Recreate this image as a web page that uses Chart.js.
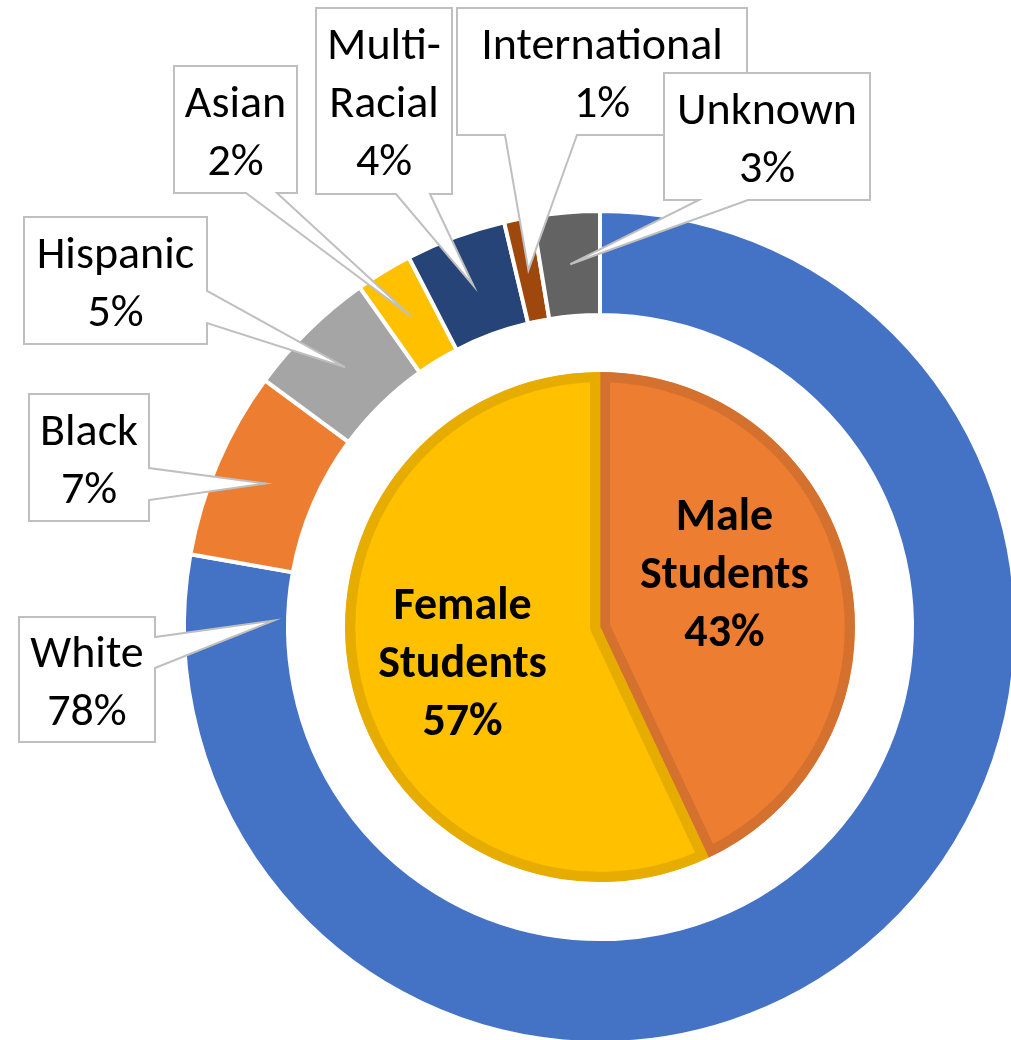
<!DOCTYPE html>
<html>
<head>
<meta charset="utf-8">
<title>Student population by ethnicity and gender</title>
<script src="https://cdn.jsdelivr.net/npm/chart.js@4.4.1/dist/chart.umd.min.js"></script>
<style>
    html, body { margin: 0; padding: 0; background: #fff; }
    #frame { position: relative; width: 1011px; height: 1040px; overflow: hidden; }
    #chart { position: absolute; left: 0; top: 0; }
</style>
</head>
<body>
<div id="frame"><canvas id="chart" width="1030" height="1060"></canvas></div>
<script>
// Outer ring: ethnicity, clockwise from 12 o'clock (share of students, %)
const ethnicityLabels = ['White', 'Black', 'Hispanic', 'Asian', 'Multi-Racial', 'International', 'Unknown'];
const ethnicityShare = [77.8, 7.3, 5.1, 2.2, 3.9, 1.1, 2.6];
const ethnicityColors = ['#4472C4', '#ED7D31', '#A5A5A5', '#FFC000', '#264478', '#9E480E', '#636363'];

// Inner pie: gender
const genderLabels = ['Male Students', 'Female Students'];
const genderShare = [43, 57];
const genderColors = ['#ED7D31', '#FFC000'];
const genderBorders = ['#D5712E', '#E6AC00'];

const FONT = 'Carlito, Lato, "Open Sans", sans-serif';
const LABEL_SIZE = 46;
const BOLD_SIZE = 46;
const LINE_GAP = 58;

// Callout boxes for the ring, in ring order: [x, y, w, h], side the pointer leaves from,
// and where on that side the pointer's base sits
const CALLOUTS = [
    { box: [19, 617, 136, 125], side: 'right', base: [637, 668], tip: { angleFrac: 0.968, radiusFrac: 0.14 } },
    { box: [29, 394, 120, 127], side: 'right', base: [468, 500] },
    { box: [24, 217, 183, 127], side: 'right', base: [291, 323] },
    { box: [174, 66, 123, 127], side: 'bottom', base: [246, 277] },
    { box: [316, 8, 136, 186], side: 'bottom', base: [396, 430] },
    { box: [457, 8, 290, 127], side: 'bottom', base: [505, 577] },
    { box: [664, 73, 206, 127], side: 'bottom', base: [699, 748] }
];

// Nudges for the bold labels inside the pie (Excel doesn't put them exactly on the centroid)
const GENDER_LABEL_NUDGE = [[0, -27], [-13, 6]];

function pct(values, i) {
    const total = values.reduce((a, b) => a + b, 0);
    return Math.round(values[i] / total * 100) + '%';
}

function splitName(name) {
    // "Multi-Racial" -> "Multi-" / "Racial"
    const dash = name.indexOf('-');
    return dash > 0 ? [name.slice(0, dash + 1), name.slice(dash + 1)] : [name];
}

function drawLines(ctx, lines, cx, cy, size) {
    const top = cy - (lines.length - 1) * LINE_GAP / 2;
    lines.forEach((line, k) => {
        ctx.fillText(line, cx, top + k * LINE_GAP + size * 0.35);
    });
}

function tipPoint(arc, spec) {
    if (!spec) return arc.tooltipPosition(true);
    const p = arc.getProps(['x', 'y', 'startAngle', 'endAngle', 'innerRadius', 'outerRadius'], true);
    const a = p.startAngle + (p.endAngle - p.startAngle) * spec.angleFrac;
    const r = p.innerRadius + (p.outerRadius - p.innerRadius) * spec.radiusFrac;
    return { x: p.x + Math.cos(a) * r, y: p.y + Math.sin(a) * r };
}

function calloutPath(ctx, c, tip) {
    const [x, y, w, h] = c.box;
    const [b0, b1] = c.base;
    ctx.beginPath();
    ctx.moveTo(x, y);
    ctx.lineTo(x + w, y);
    if (c.side === 'right') {
        ctx.lineTo(x + w, b0);
        ctx.lineTo(tip.x, tip.y);
        ctx.lineTo(x + w, b1);
        ctx.lineTo(x + w, y + h);
        ctx.lineTo(x, y + h);
    } else {
        ctx.lineTo(x + w, y + h);
        ctx.lineTo(b1, y + h);
        ctx.lineTo(tip.x, tip.y);
        ctx.lineTo(b0, y + h);
        ctx.lineTo(x, y + h);
    }
    ctx.closePath();
}

const labelPlugin = {
    id: 'excelLabels',
    afterDatasetsDraw(chart) {
        const ctx = chart.ctx;
        ctx.save();
        ctx.textAlign = 'center';
        ctx.textBaseline = 'alphabetic';
        ctx.fillStyle = '#000';

        // gender labels inside the pie
        const pieArcs = chart.getDatasetMeta(2).data;
        ctx.font = `bold ${BOLD_SIZE}px ${FONT}`;
        pieArcs.forEach((arc, i) => {
            const pos = arc.tooltipPosition(true);
            const [dx, dy] = GENDER_LABEL_NUDGE[i];
            const lines = genderLabels[i].split(' ').concat(pct(genderShare, i));
            drawLines(ctx, lines, pos.x + dx, pos.y + dy, BOLD_SIZE);
        });

        // callouts for the ethnicity ring
        const ringArcs = chart.getDatasetMeta(0).data;
        ringArcs.forEach((arc, i) => {
            const c = CALLOUTS[i];
            const tip = tipPoint(arc, c.tip);
            calloutPath(ctx, c, tip);
            ctx.fillStyle = '#fff';
            ctx.fill();
            ctx.lineWidth = 2;
            ctx.lineJoin = 'miter';
            ctx.strokeStyle = '#BFBFBF';
            ctx.stroke();

            const [x, y, w, h] = c.box;
            ctx.fillStyle = '#000';
            ctx.font = `${LABEL_SIZE}px ${FONT}`;
            const lines = splitName(ethnicityLabels[i]).concat(pct(ethnicityShare, i));
            drawLines(ctx, lines, x + w / 2, y + h / 2, LABEL_SIZE);
        });
        ctx.restore();
    }
};

new Chart(document.getElementById('chart'), {
    type: 'pie',
    data: {
        labels: ethnicityLabels,
        datasets: [
            {
                label: 'Ethnicity',
                data: ethnicityShare,
                backgroundColor: ethnicityColors,
                borderColor: '#fff',
                borderWidth: 4,
                hoverBorderWidth: 4,
                weight: 104
            },
            {
                // empty band between the ring and the pie
                label: 'gap',
                data: [1],
                backgroundColor: 'rgba(0,0,0,0)',
                borderWidth: 0,
                hoverBorderWidth: 0,
                weight: 57
            },
            {
                label: 'Gender',
                data: genderShare,
                backgroundColor: genderColors,
                borderColor: genderBorders,
                borderAlign: 'inner',
                borderWidth: 10,
                hoverBorderWidth: 10,
                weight: 255
            }
        ]
    },
    options: {
        responsive: false,
        animation: false,
        events: [],
        layout: { padding: { left: 182, top: 209, right: 12, bottom: 15 } },
        plugins: {
            legend: { display: false },
            tooltip: { enabled: false }
        }
    },
    plugins: [labelPlugin]
});
</script>
</body>
</html>
